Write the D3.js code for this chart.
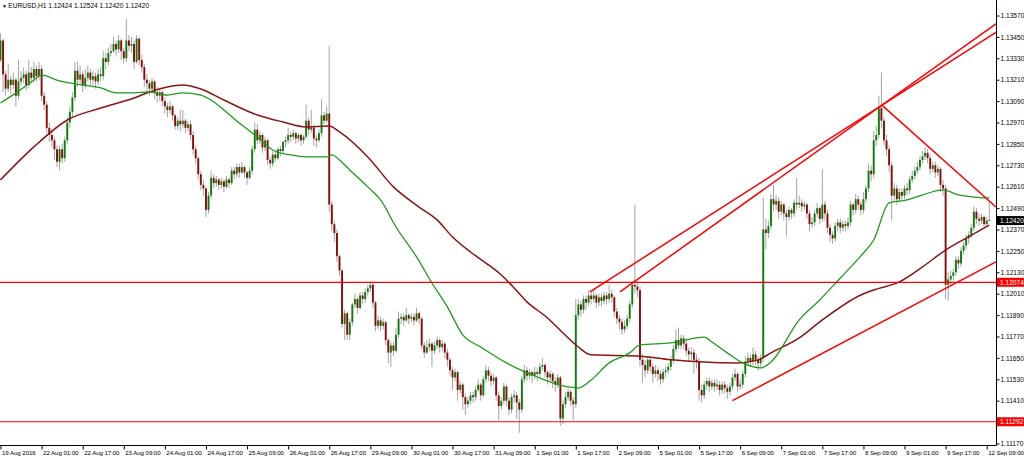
<!DOCTYPE html>
<html><head><meta charset="utf-8">
<script src="https://cdn.jsdelivr.net/npm/d3@7"></script>
<style>html,body{margin:0;padding:0;background:#fff;overflow:hidden}svg{display:block}text{font-family:"Liberation Sans",Arial,sans-serif}</style>
</head><body><svg id="c" width="1024" height="456"></svg>
<script>
// ---------------- DATA ----------------
const symbolTitle = "EURUSD,H1";
const headerValues = ["1.12424", "1.12524", "1.12420", "1.12420"];
const timeLabels = ["19 Aug 2016","22 Aug 01:00","22 Aug 17:00","23 Aug 09:00","24 Aug 01:00","24 Aug 17:00","25 Aug 09:00","26 Aug 01:00","26 Aug 17:00","29 Aug 09:00","30 Aug 01:00","30 Aug 17:00","31 Aug 09:00","1 Sep 01:00","1 Sep 17:00","2 Sep 09:00","5 Sep 01:00","5 Sep 17:00","6 Sep 09:00","7 Sep 01:00","7 Sep 17:00","8 Sep 09:00","9 Sep 01:00","9 Sep 17:00","12 Sep 09:00"];
const timeLabelBars = [0,16,32,48,64,80,96,112,128,144,160,176,192,208,224,240,256,272,288,304,320,336,352,368,384];
const priceTicks = [1.11170,1.11410,1.11530,1.11650,1.11770,1.11890,1.12010,1.12130,1.12250,1.12370,1.12490,1.12610,1.12730,1.12850,1.12970,1.13090,1.13210,1.13330,1.13450,1.13570];

const open = [
1.1332,1.1343,1.1324,1.1316,1.1321,1.1318,1.1321,1.1312,1.1320,1.1322,
1.1324,1.1318,1.1325,1.1322,1.1327,1.1323,1.1327,1.1312,1.1307,1.1294,
1.1290,1.1287,1.1282,1.1275,1.1282,1.1277,1.1287,1.1297,1.1303,1.1311,
1.1326,1.1321,1.1324,1.1318,1.1322,1.1325,1.1321,1.1323,1.1320,1.1324,
1.1323,1.1333,1.1331,1.1336,1.1337,1.1341,1.1338,1.1343,1.1337,1.1333,
1.1343,1.1340,1.1341,1.1331,1.1344,1.1332,1.1328,1.1321,1.1319,1.1316,
1.1320,1.1314,1.1312,1.1314,1.1309,1.1306,1.1304,1.1306,1.1301,1.1295,
1.1298,1.1296,1.1298,1.1294,1.1296,1.1290,1.1282,1.1277,1.1268,1.1262,
1.1260,1.1248,1.1256,1.1266,1.1263,1.1265,1.1262,1.1264,1.1261,1.1265,
1.1263,1.1270,1.1268,1.1272,1.1269,1.1272,1.1269,1.1266,1.1270,1.1282,
1.1293,1.1287,1.1290,1.1283,1.1287,1.1276,1.1274,1.1279,1.1277,1.1282,
1.1281,1.1286,1.1287,1.1290,1.1289,1.1291,1.1288,1.1290,1.1287,1.1289,
1.1298,1.1293,1.1294,1.1288,1.1287,1.1291,1.1301,1.1298,1.1302,1.1251,
1.1240,1.1235,1.1222,1.1214,1.1184,1.1190,1.1178,1.1185,1.1195,1.1198,
1.1193,1.1200,1.1198,1.1202,1.1204,1.1206,1.1196,1.1183,1.1186,1.1183,
1.1185,1.1175,1.1168,1.1172,1.1169,1.1178,1.1187,1.1188,1.1186,1.1189,
1.1187,1.1188,1.1186,1.1190,1.1187,1.1172,1.1168,1.1171,1.1173,1.1169,
1.1172,1.1175,1.1171,1.1173,1.1168,1.1164,1.1158,1.1154,1.1157,1.1147,
1.1150,1.1143,1.1139,1.1141,1.1144,1.1143,1.1147,1.1150,1.1144,1.1153,
1.1158,1.1155,1.1152,1.1154,1.1144,1.1138,1.1141,1.1149,1.1141,1.1136,
1.1143,1.1144,1.1140,1.1136,1.1153,1.1158,1.1155,1.1157,1.1155,1.1157,
1.1156,1.1160,1.1161,1.1157,1.1154,1.1156,1.1152,1.1150,1.1154,1.1131,
1.1139,1.1143,1.1146,1.1141,1.1139,1.1189,1.1195,1.1192,1.1198,1.1196,
1.1200,1.1198,1.1200,1.1196,1.1199,1.1197,1.1200,1.1198,1.1201,1.1199,
1.1191,1.1187,1.1185,1.1181,1.1183,1.1187,1.1195,1.1206,1.1205,1.1203,
1.1164,1.1161,1.1158,1.1164,1.1160,1.1156,1.1158,1.1156,1.1153,1.1157,
1.1158,1.1160,1.1164,1.1170,1.1175,1.1172,1.1176,1.1173,1.1169,1.1167,
1.1168,1.1164,1.1163,1.1147,1.1144,1.1150,1.1152,1.1149,1.1151,1.1149,
1.1150,1.1147,1.1150,1.1148,1.1146,1.1149,1.1154,1.1156,1.1149,1.1150,
1.1156,1.1163,1.1165,1.1163,1.1167,1.1164,1.1162,1.1165,1.1237,1.1235,
1.1239,1.1254,1.1251,1.1253,1.1247,1.1251,1.1246,1.1244,1.1248,1.1246,
1.1252,1.1251,1.1252,1.1250,1.1251,1.1246,1.1240,1.1241,1.1246,1.1249,
1.1243,1.1251,1.1246,1.1238,1.1234,1.1232,1.1239,1.1241,1.1238,1.1240,
1.1239,1.1241,1.1251,1.1248,1.1254,1.1251,1.1248,1.1254,1.1260,1.1270,
1.1268,1.1287,1.1290,1.1305,1.1298,1.1287,1.1282,1.1273,1.1256,1.1260,
1.1254,1.1258,1.1256,1.1260,1.1259,1.1265,1.1267,1.1270,1.1272,1.1276,
1.1278,1.1280,1.1277,1.1271,1.1273,1.1269,1.1271,1.1262,1.1260,1.1206,
1.1209,1.1211,1.1213,1.1220,1.1218,1.1225,1.1228,1.1232,1.1234,1.1238,
1.1247,1.1243,1.1242,1.1244,1.1240,1.12424];

const high = [
1.1347,1.1344,1.1326,1.1330,1.1323,1.1325,1.1322,1.1332,1.1326,1.1328,
1.1326,1.1332,1.1328,1.1331,1.1329,1.1331,1.1329,1.1314,1.1309,1.1297,
1.1293,1.1289,1.1284,1.1284,1.1285,1.1289,1.1300,1.1306,1.1314,1.1331,
1.1331,1.1329,1.1326,1.1327,1.1329,1.1327,1.1326,1.1325,1.1327,1.1328,
1.1337,1.1336,1.1339,1.1341,1.1345,1.1343,1.1346,1.1344,1.1339,1.1355,
1.1346,1.1345,1.1343,1.1346,1.1345,1.1335,1.1330,1.1324,1.1321,1.1322,
1.1321,1.1317,1.1316,1.1315,1.1311,1.1308,1.1309,1.1307,1.1302,1.1300,
1.1304,1.1304,1.1299,1.1298,1.1298,1.1292,1.1284,1.1278,1.1270,1.1265,
1.1261,1.1258,1.1270,1.1268,1.1267,1.1266,1.1266,1.1265,1.1267,1.1266,
1.1272,1.1272,1.1274,1.1274,1.1275,1.1273,1.1270,1.1272,1.1284,1.1297,
1.1296,1.1292,1.1291,1.1289,1.1288,1.1278,1.1281,1.1281,1.1283,1.1284,
1.1287,1.1289,1.1294,1.1292,1.1293,1.1292,1.1291,1.1291,1.1290,1.1307,
1.1300,1.1304,1.1296,1.1290,1.1293,1.1310,1.1303,1.1306,1.1340,1.1253,
1.1242,1.1237,1.1223,1.1215,1.1192,1.1191,1.1187,1.1196,1.1201,1.1199,
1.1202,1.1202,1.1204,1.1206,1.1208,1.1207,1.1197,1.1189,1.1188,1.1187,
1.1186,1.1176,1.1174,1.1174,1.1182,1.1191,1.1190,1.1190,1.1193,1.1190,
1.1190,1.1190,1.1193,1.1191,1.1188,1.1174,1.1175,1.1176,1.1174,1.1174,
1.1177,1.1176,1.1175,1.1174,1.1170,1.1165,1.1160,1.1159,1.1158,1.1152,
1.1151,1.1145,1.1143,1.1146,1.1146,1.1149,1.1153,1.1151,1.1155,1.1161,
1.1160,1.1157,1.1156,1.1155,1.1146,1.1143,1.1151,1.1150,1.1143,1.1145,
1.1147,1.1146,1.1142,1.1155,1.1161,1.1160,1.1159,1.1158,1.1160,1.1159,
1.1162,1.1165,1.1162,1.1158,1.1158,1.1157,1.1154,1.1156,1.1155,1.1141,
1.1146,1.1148,1.1147,1.1143,1.1198,1.1198,1.1197,1.1200,1.1200,1.1203,
1.1202,1.1203,1.1201,1.1201,1.1201,1.1202,1.1202,1.1206,1.1203,1.1200,
1.1193,1.1189,1.1187,1.1186,1.1189,1.1197,1.1208,1.1251,1.1208,1.1205,
1.1167,1.1164,1.1166,1.1166,1.1162,1.1161,1.1160,1.1158,1.1159,1.1160,
1.1162,1.1166,1.1172,1.1181,1.1182,1.1178,1.1178,1.1175,1.1171,1.1171,
1.1170,1.1167,1.1165,1.1150,1.1152,1.1154,1.1154,1.1153,1.1153,1.1153,
1.1152,1.1152,1.1152,1.1150,1.1151,1.1156,1.1159,1.1157,1.1153,1.1158,
1.1166,1.1168,1.1167,1.1171,1.1169,1.1166,1.1167,1.1255,1.1243,1.1242,
1.1257,1.1262,1.1256,1.1255,1.1253,1.1252,1.1248,1.1250,1.1249,1.1254,
1.1266,1.1256,1.1254,1.1253,1.1252,1.1248,1.1244,1.1248,1.1252,1.1250,
1.1271,1.1253,1.1248,1.1240,1.1236,1.1241,1.1243,1.1243,1.1242,1.1242,
1.1244,1.1253,1.1252,1.1257,1.1256,1.1253,1.1258,1.1262,1.1274,1.1273,
1.1292,1.1295,1.1312,1.1325,1.1300,1.1290,1.1284,1.1275,1.1263,1.1262,
1.1260,1.1260,1.1262,1.1263,1.1267,1.1270,1.1272,1.1275,1.1278,1.1281,
1.1283,1.1282,1.1279,1.1275,1.1275,1.1273,1.1272,1.1265,1.1262,1.1213,
1.1214,1.1215,1.1222,1.1222,1.1227,1.1230,1.1234,1.1236,1.1240,1.1250,
1.1249,1.1246,1.1246,1.1245,1.1244,1.12524];

const low = [
1.1331,1.1314,1.1312,1.1314,1.1313,1.1316,1.1306,1.1310,1.1318,1.1319,
1.1315,1.1316,1.1319,1.1320,1.1320,1.1321,1.1309,1.1304,1.1291,1.1286,
1.1283,1.1276,1.1272,1.1270,1.1274,1.1275,1.1285,1.1294,1.1300,1.1309,
1.1317,1.1319,1.1314,1.1316,1.1320,1.1318,1.1318,1.1316,1.1318,1.1320,
1.1321,1.1327,1.1329,1.1334,1.1336,1.1334,1.1336,1.1332,1.1330,1.1331,
1.1337,1.1336,1.1327,1.1330,1.1329,1.1325,1.1317,1.1313,1.1312,1.1314,
1.1310,1.1308,1.1309,1.1306,1.1302,1.1300,1.1302,1.1298,1.1293,1.1293,
1.1292,1.1294,1.1291,1.1292,1.1287,1.1279,1.1274,1.1265,1.1259,1.1256,
1.1244,1.1246,1.1254,1.1260,1.1261,1.1259,1.1260,1.1258,1.1260,1.1260,
1.1262,1.1265,1.1266,1.1266,1.1268,1.1266,1.1262,1.1265,1.1268,1.1280,
1.1285,1.1285,1.1280,1.1281,1.1273,1.1271,1.1272,1.1275,1.1276,1.1278,
1.1279,1.1283,1.1285,1.1286,1.1287,1.1285,1.1286,1.1284,1.1285,1.1288,
1.1290,1.1291,1.1284,1.1283,1.1286,1.1289,1.1296,1.1297,1.1247,1.1236,
1.1230,1.1219,1.1211,1.1182,1.1175,1.1175,1.1175,1.1183,1.1193,1.1190,
1.1192,1.1195,1.1196,1.1200,1.1202,1.1193,1.1180,1.1181,1.1180,1.1181,
1.1172,1.1162,1.1160,1.1166,1.1168,1.1176,1.1184,1.1183,1.1185,1.1184,
1.1185,1.1183,1.1185,1.1184,1.1170,1.1165,1.1167,1.1169,1.1160,1.1167,
1.1170,1.1168,1.1169,1.1165,1.1160,1.1155,1.1147,1.1152,1.1141,1.1145,
1.1136,1.1133,1.1137,1.1139,1.1140,1.1141,1.1146,1.1141,1.1143,1.1151,
1.1152,1.1149,1.1150,1.1141,1.1130,1.1136,1.1139,1.1138,1.1133,1.1134,
1.1140,1.1131,1.1123,1.1134,1.1151,1.1152,1.1153,1.1151,1.1153,1.1152,
1.1154,1.1158,1.1154,1.1150,1.1152,1.1148,1.1146,1.1148,1.1127,1.1128,
1.1137,1.1141,1.1138,1.1130,1.1137,1.1186,1.1188,1.1190,1.1192,1.1194,
1.1195,1.1196,1.1193,1.1194,1.1194,1.1195,1.1195,1.1196,1.1196,1.1188,
1.1184,1.1181,1.1178,1.1179,1.1181,1.1185,1.1193,1.1201,1.1199,1.1160,
1.1151,1.1154,1.1156,1.1157,1.1151,1.1154,1.1152,1.1150,1.1151,1.1154,
1.1156,1.1158,1.1162,1.1168,1.1170,1.1170,1.1170,1.1166,1.1163,1.1164,
1.1156,1.1159,1.1141,1.1140,1.1142,1.1147,1.1146,1.1147,1.1146,1.1147,
1.1144,1.1145,1.1145,1.1142,1.1144,1.1147,1.1152,1.1146,1.1147,1.1148,
1.1154,1.1161,1.1160,1.1161,1.1161,1.1158,1.1160,1.1163,1.1226,1.1232,
1.1237,1.1247,1.1248,1.1243,1.1245,1.1242,1.1233,1.1242,1.1243,1.1244,
1.1248,1.1249,1.1247,1.1248,1.1243,1.1236,1.1238,1.1239,1.1244,1.1240,
1.1241,1.1242,1.1235,1.1230,1.1229,1.1230,1.1236,1.1235,1.1236,1.1236,
1.1237,1.1239,1.1245,1.1246,1.1248,1.1245,1.1246,1.1252,1.1258,1.1264,
1.1266,1.1284,1.1288,1.1294,1.1284,1.1278,1.1269,1.1242,1.1253,1.1251,
1.1252,1.1253,1.1254,1.1256,1.1257,1.1263,1.1265,1.1268,1.1270,1.1274,
1.1276,1.1274,1.1268,1.1269,1.1266,1.1267,1.1258,1.1256,1.1198,1.1197,
1.1205,1.1208,1.1211,1.1215,1.1216,1.1223,1.1226,1.1229,1.1232,1.1236,
1.1240,1.1239,1.1240,1.1238,1.1239,1.12420];

const close = [
1.1343,1.1324,1.1316,1.1321,1.1318,1.1321,1.1312,1.1320,1.1322,1.1324,
1.1318,1.1325,1.1322,1.1327,1.1323,1.1327,1.1312,1.1307,1.1294,1.1290,
1.1287,1.1282,1.1275,1.1282,1.1277,1.1287,1.1297,1.1303,1.1311,1.1326,
1.1321,1.1324,1.1318,1.1322,1.1325,1.1321,1.1323,1.1320,1.1324,1.1323,
1.1333,1.1331,1.1336,1.1337,1.1341,1.1338,1.1343,1.1337,1.1333,1.1343,
1.1340,1.1341,1.1331,1.1344,1.1332,1.1328,1.1321,1.1319,1.1316,1.1320,
1.1314,1.1312,1.1314,1.1309,1.1306,1.1304,1.1306,1.1301,1.1295,1.1298,
1.1296,1.1298,1.1294,1.1296,1.1290,1.1282,1.1277,1.1268,1.1262,1.1260,
1.1248,1.1256,1.1266,1.1263,1.1265,1.1262,1.1264,1.1261,1.1265,1.1263,
1.1270,1.1268,1.1272,1.1269,1.1272,1.1269,1.1266,1.1270,1.1282,1.1293,
1.1287,1.1290,1.1283,1.1287,1.1276,1.1274,1.1279,1.1277,1.1282,1.1281,
1.1286,1.1287,1.1290,1.1289,1.1291,1.1288,1.1290,1.1287,1.1289,1.1298,
1.1293,1.1294,1.1288,1.1287,1.1291,1.1301,1.1298,1.1302,1.1251,1.1240,
1.1235,1.1222,1.1214,1.1184,1.1190,1.1178,1.1185,1.1195,1.1198,1.1193,
1.1200,1.1198,1.1202,1.1204,1.1206,1.1196,1.1183,1.1186,1.1183,1.1185,
1.1175,1.1168,1.1172,1.1169,1.1178,1.1187,1.1188,1.1186,1.1189,1.1187,
1.1188,1.1186,1.1190,1.1187,1.1172,1.1168,1.1171,1.1173,1.1169,1.1172,
1.1175,1.1171,1.1173,1.1168,1.1164,1.1158,1.1154,1.1157,1.1147,1.1150,
1.1143,1.1139,1.1141,1.1144,1.1143,1.1147,1.1150,1.1144,1.1153,1.1158,
1.1155,1.1152,1.1154,1.1144,1.1138,1.1141,1.1149,1.1141,1.1136,1.1143,
1.1144,1.1140,1.1136,1.1153,1.1158,1.1155,1.1157,1.1155,1.1157,1.1156,
1.1160,1.1161,1.1157,1.1154,1.1156,1.1152,1.1150,1.1154,1.1131,1.1139,
1.1143,1.1146,1.1141,1.1139,1.1189,1.1195,1.1192,1.1198,1.1196,1.1200,
1.1198,1.1200,1.1196,1.1199,1.1197,1.1200,1.1198,1.1201,1.1199,1.1191,
1.1187,1.1185,1.1181,1.1183,1.1187,1.1195,1.1206,1.1205,1.1203,1.1164,
1.1161,1.1158,1.1164,1.1160,1.1156,1.1158,1.1156,1.1153,1.1157,1.1158,
1.1160,1.1164,1.1170,1.1175,1.1172,1.1176,1.1173,1.1169,1.1167,1.1168,
1.1164,1.1163,1.1147,1.1144,1.1150,1.1152,1.1149,1.1151,1.1149,1.1150,
1.1147,1.1150,1.1148,1.1146,1.1149,1.1154,1.1156,1.1149,1.1150,1.1156,
1.1163,1.1165,1.1163,1.1167,1.1164,1.1162,1.1165,1.1237,1.1235,1.1239,
1.1254,1.1251,1.1253,1.1247,1.1251,1.1246,1.1244,1.1248,1.1246,1.1252,
1.1251,1.1252,1.1250,1.1251,1.1246,1.1240,1.1241,1.1246,1.1249,1.1243,
1.1251,1.1246,1.1238,1.1234,1.1232,1.1239,1.1241,1.1238,1.1240,1.1239,
1.1241,1.1251,1.1248,1.1254,1.1251,1.1248,1.1254,1.1260,1.1270,1.1268,
1.1287,1.1290,1.1305,1.1298,1.1287,1.1282,1.1273,1.1256,1.1260,1.1254,
1.1258,1.1256,1.1260,1.1259,1.1265,1.1267,1.1270,1.1272,1.1276,1.1278,
1.1280,1.1277,1.1271,1.1273,1.1269,1.1271,1.1262,1.1260,1.1206,1.1209,
1.1211,1.1213,1.1220,1.1218,1.1225,1.1228,1.1232,1.1234,1.1238,1.1247,
1.1243,1.1242,1.1244,1.1240,1.1242,1.12420];

// moving averages (sampled at bar indices)
const fastMABars = [0,6,12,16,23,32,39,45,52,58,65,71,78,82,87,93,100,106,113,119,127,129,132,136,143,148,154,162,168,174,180,187,197,209,221,225,230,237,245,249,261,274,277,283,289,296,300,311,319,327,335,340,346,353,359,367,373,379,385];
const fastMA = [1.13079,1.13136,1.13197,1.13236,1.13203,1.13180,1.13164,1.13136,1.13136,1.13141,1.13124,1.13136,1.13124,1.13096,1.13040,1.12967,1.12889,1.12816,1.12788,1.12777,1.12777,1.12788,1.12760,1.12704,1.12609,1.12536,1.12384,1.12216,1.12070,1.11936,1.11779,1.11711,1.11622,1.11543,1.11487,1.11481,1.11526,1.11622,1.11678,1.11723,1.11734,1.11767,1.11739,1.11678,1.11622,1.11594,1.11627,1.11863,1.11975,1.12098,1.12222,1.12311,1.12519,1.12536,1.12564,1.12592,1.12564,1.12552,1.12547];
const slowMABars = [0,13,26,39,52,58,65,71,78,87,100,110,119,128,132,143,153,163,170,176,183,189,195,200,205,213,219,225,230,248,261,274,287,295,300,311,320,335,340,350,359,368,376,385];
const slowMA = [1.12648,1.12833,1.12984,1.13051,1.13107,1.13141,1.13169,1.13180,1.13158,1.13096,1.13012,1.12973,1.12945,1.12950,1.12917,1.12777,1.12609,1.12496,1.12424,1.12328,1.12244,1.12182,1.12115,1.12042,1.11964,1.11874,1.11790,1.11711,1.11667,1.11661,1.11639,1.11627,1.11622,1.11639,1.11678,1.11762,1.11863,1.12003,1.12031,1.12076,1.12160,1.12255,1.12322,1.12395];

// drawn objects
const levels = [1.12074, 1.11292];
const trendLines = [
  {b1: 229.5, p1: 1.12020, b2: 387.6, p2: 1.13476},
  {b1: 241.2, p1: 1.12020, b2: 387.6, p2: 1.13523},
  {b1: 285.0, p1: 1.11410, b2: 387.6, p2: 1.12188},
  {b1: 343.5, p1: 1.13063, b2: 387.6, p2: 1.12496}
];
const lastPrice = 1.12420;

// ---------------- CHART ----------------
const W = 1024, H = 456, plotR = 996.5, plotB = 445.5;
const svg = d3.select("#c");
svg.append("rect").attr("width", W).attr("height", H).attr("fill", "#fff");

const x = d3.scaleLinear().domain([0, 384]).range([0.5, 986.7]);
const y = d3.scaleLinear().domain([1.11170, 1.13570]).range([443.5, 15.5]);

svg.append("defs").append("clipPath").attr("id", "plot")
  .append("rect").attr("x", 0).attr("y", 0).attr("width", plotR).attr("height", plotB);
const g = svg.append("g").attr("clip-path", "url(#plot)");

const bars = close.map((c, i) => ({i, o: open[i], h: high[i], l: low[i], c}));

g.selectAll("line.wick").data(bars).join("line").attr("class", "wick")
  .attr("x1", d => x(d.i)).attr("x2", d => x(d.i))
  .attr("y1", d => y(d.h)).attr("y2", d => y(d.l))
  .attr("stroke", "#a4a4a4").attr("stroke-width", 1);

g.selectAll("rect.body").data(bars).join("rect").attr("class", "body")
  .attr("x", d => x(d.i) - 0.95).attr("width", 1.9)
  .attr("y", d => y(Math.max(d.o, d.c)))
  .attr("height", d => Math.max(0.8, Math.abs(y(d.o) - y(d.c))))
  .attr("fill", d => d.c >= d.o ? "#0b7d0b" : "#8a0a0a");

const maLine = (bs) => d3.line().x((d, k) => x(bs[k])).y(d => y(d)).curve(d3.curveMonotoneX);
g.append("path").datum(slowMA).attr("d", maLine(slowMABars))
  .attr("fill", "none").attr("stroke", "#8e1414").attr("stroke-width", 1.5);
g.append("path").datum(fastMA).attr("d", maLine(fastMABars))
  .attr("fill", "none").attr("stroke", "#1e9b1e").attr("stroke-width", 1.3);

g.selectAll("line.level").data(levels).join("line").attr("class", "level")
  .attr("x1", 0).attr("x2", plotR).attr("y1", d => y(d)).attr("y2", d => y(d))
  .attr("stroke", "#ff0000").attr("stroke-width", 1.2);

g.selectAll("line.trend").data(trendLines).join("line").attr("class", "trend")
  .attr("x1", d => x(d.b1)).attr("y1", d => y(d.p1))
  .attr("x2", d => x(d.b2)).attr("y2", d => y(d.p2))
  .attr("stroke", "#ff0000").attr("stroke-width", 1.5);

// axes
const fs = 6.6;
const yAxis = d3.axisRight(y).tickValues(priceTicks).tickFormat(d3.format(".5f")).tickSize(3).tickPadding(1);
const ya = svg.append("g").attr("transform", `translate(${plotR},0)`).call(yAxis);
ya.select(".domain").remove();
ya.selectAll("text").attr("font-size", fs).attr("fill", "#000").attr("font-family", "Liberation Sans, Arial, sans-serif");
ya.selectAll("line").attr("stroke", "#000");

const xAxis = d3.axisBottom(x).tickValues(timeLabelBars).tickFormat((d, i) => timeLabels[i]).tickSize(4).tickPadding(1);
const xa = svg.append("g").attr("transform", `translate(0,${plotB})`).call(xAxis);
xa.select(".domain").remove();
xa.selectAll("text").attr("font-size", 6.2).attr("letter-spacing", "-0.1px").attr("fill", "#000")
  .attr("text-anchor", "start").attr("x", 1)
  .attr("font-family", "Liberation Sans, Arial, sans-serif");
xa.selectAll("line").attr("stroke", "#000");

svg.append("line").attr("x1", plotR).attr("x2", plotR).attr("y1", 0).attr("y2", plotB).attr("stroke", "#000");
svg.append("line").attr("x1", 0).attr("x2", plotR).attr("y1", plotB).attr("y2", plotB).attr("stroke", "#000");

// price labels on axis
const tagData = levels.map(v => ({v, bg: "#ff0000"})).concat([{v: lastPrice, bg: "#000"}]);
const tags = svg.selectAll("g.tag").data(tagData).join("g").attr("class", "tag")
  .attr("transform", d => `translate(${plotR + 0.5},${y(d.v)})`);
tags.append("rect").attr("x", 0).attr("y", -4.5).attr("width", W - plotR).attr("height", 9).attr("fill", d => d.bg);
tags.append("text").attr("x", 3).attr("y", 0).attr("dy", "0.35em").attr("font-size", fs).attr("fill", "#fff")
  .text(d => d3.format(".5f")(d.v));

// header
const hdr = svg.append("text").attr("x", 2).attr("y", 7.5).attr("font-size", fs).attr("fill", "#000");
hdr.append("tspan").attr("font-size", 5).text("▼ ");
hdr.append("tspan").text(symbolTitle + "  " + headerValues.join(" "));
</script></body></html>
